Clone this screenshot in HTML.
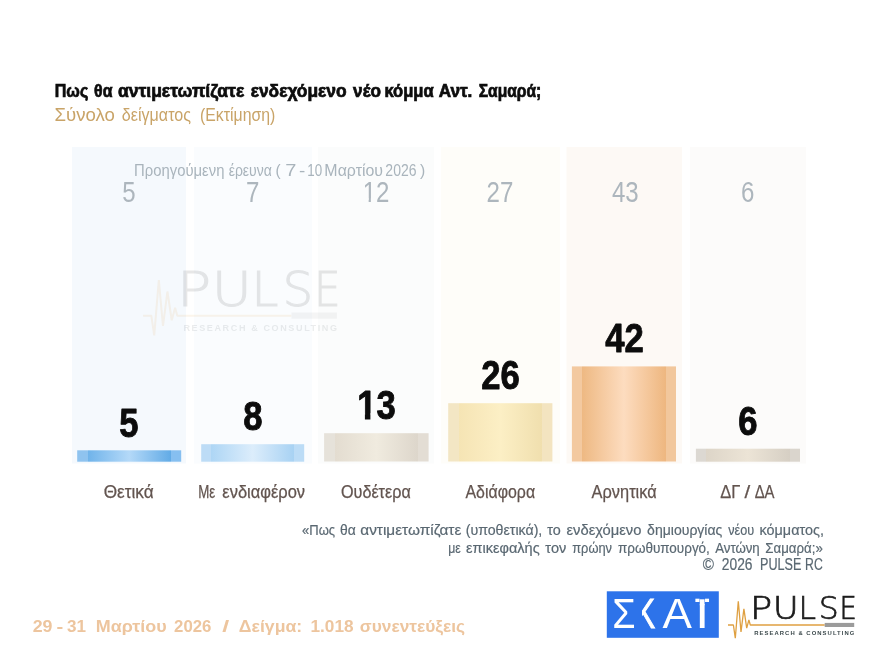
<!DOCTYPE html>
<html lang="el">
<head>
<meta charset="utf-8">
<title>Pulse RC – ΣΚΑΪ</title>
<style>
html,body{margin:0;padding:0;background:#fff;}
body{width:874px;height:656px;overflow:hidden;font-family:"Liberation Sans",sans-serif;}
svg{display:block;}
text{font-family:"Liberation Sans",sans-serif;}
.b{font-weight:bold;}
.lt text,text.lt{font-family:"DejaVu Sans Light","DejaVu Sans","Liberation Sans",sans-serif;font-weight:200;}
</style>
</head>
<body>
<svg width="874" height="656" viewBox="0 0 874 656">
<defs>
<linearGradient id="g1" x1="0" x2="1" y1="0" y2="0">
<stop offset="0" stop-color="#8fc3ef"/><stop offset="0.1" stop-color="#8fc3ef"/>
<stop offset="0.1" stop-color="#6fb3ea"/><stop offset="0.5" stop-color="#b4d9f8"/><stop offset="0.9" stop-color="#62abe6"/>
<stop offset="0.9" stop-color="#86bff0"/><stop offset="1" stop-color="#86bff0"/>
</linearGradient>
<linearGradient id="g2" x1="0" x2="1" y1="0" y2="0">
<stop offset="0" stop-color="#bddcf6"/><stop offset="0.1" stop-color="#bddcf6"/>
<stop offset="0.1" stop-color="#aed6f5"/><stop offset="0.5" stop-color="#dcedfb"/><stop offset="0.9" stop-color="#a8d2f3"/>
<stop offset="0.9" stop-color="#bcdcf6"/><stop offset="1" stop-color="#bcdcf6"/>
</linearGradient>
<linearGradient id="g3" x1="0" x2="1" y1="0" y2="0">
<stop offset="0" stop-color="#e6e2da"/><stop offset="0.1" stop-color="#e6e2da"/>
<stop offset="0.1" stop-color="#e3dcd0"/><stop offset="0.5" stop-color="#f0ebdf"/><stop offset="0.9" stop-color="#ddd6cb"/>
<stop offset="0.9" stop-color="#e3ddd4"/><stop offset="1" stop-color="#e3ddd4"/>
</linearGradient>
<linearGradient id="g4" x1="0" x2="1" y1="0" y2="0">
<stop offset="0" stop-color="#f3e6c4"/><stop offset="0.1" stop-color="#f3e6c4"/>
<stop offset="0.1" stop-color="#f5e4b4"/><stop offset="0.5" stop-color="#fcefc5"/><stop offset="0.9" stop-color="#f0dfae"/>
<stop offset="0.9" stop-color="#f3e4c0"/><stop offset="1" stop-color="#f3e4c0"/>
</linearGradient>
<linearGradient id="g5" x1="0" x2="1" y1="0" y2="0">
<stop offset="0" stop-color="#f3c9a0"/><stop offset="0.1" stop-color="#f3c9a0"/>
<stop offset="0.1" stop-color="#eeb983"/><stop offset="0.5" stop-color="#fddcbf"/><stop offset="0.9" stop-color="#eeb780"/>
<stop offset="0.9" stop-color="#f2c79c"/><stop offset="1" stop-color="#f2c79c"/>
</linearGradient>
<linearGradient id="g6" x1="0" x2="1" y1="0" y2="0">
<stop offset="0" stop-color="#dcd8d2"/><stop offset="0.1" stop-color="#dcd8d2"/>
<stop offset="0.1" stop-color="#ddd5c8"/><stop offset="0.5" stop-color="#ece4d6"/><stop offset="0.9" stop-color="#d6cfc4"/>
<stop offset="0.9" stop-color="#dad5cd"/><stop offset="1" stop-color="#dad5cd"/>
</linearGradient>
</defs>

<!-- column backgrounds -->
<g id="cols">
<rect x="72" y="147" width="114" height="316.5" fill="#f5f9fd"/>
<rect x="194" y="147" width="118" height="316.5" fill="#fafcfe"/>
<rect x="318" y="147" width="116" height="316.5" fill="#fbfcfc"/>
<rect x="441" y="147" width="119" height="316.5" fill="#fefdf9"/>
<rect x="566.5" y="147" width="115.5" height="316.5" fill="#fdf9f5"/>
<rect x="690" y="147" width="116" height="316.5" fill="#fcfbfa"/>
</g>

<!-- bars -->
<g id="bars">
<rect x="77.2" y="450.3" width="104" height="11.4" fill="url(#g1)"/>
<rect x="201.2" y="444.2" width="103" height="17.5" fill="url(#g2)"/>
<rect x="324.1" y="433.2" width="104.5" height="28.3" fill="url(#g3)"/>
<rect x="448.2" y="403.2" width="104.2" height="58.3" fill="url(#g4)"/>
<rect x="571.9" y="366.4" width="104.1" height="95.1" fill="url(#g5)"/>
<rect x="695.9" y="448.7" width="104.1" height="13" fill="url(#g6)"/>
</g>

<!-- watermark -->
<g id="wm" opacity="0.105" transform="translate(-975.2,-621.85) scale(1.536,1.5)">
<polyline points="728,625 733.4,625 735.3,638.2 738.3,601.3 741,631.9 743.9,608.9 746.7,628.1 748.9,619.8 750.3,625 824.7,625" fill="none" stroke="#dfa041" stroke-width="1.3" stroke-linejoin="bevel"/>
<rect x="824.7" y="622.9" width="29.5" height="4.1" fill="#9b9b9b"/>
<g class="lt" font-size="31.5" fill="#1c1c1c" stroke="#1c1c1c" stroke-width="0.7">
<text transform="translate(750.1,618.5) scale(1.17,1)">P</text>
<text transform="translate(772.7,618.5) scale(1.13,1)">U</text>
<text transform="translate(798.6,618.5)">L</text>
<text transform="translate(818.8,618.5)">S</text>
<text transform="translate(839.4,618.5) scale(0.87,1)">E</text>
</g>
<text class="b" x="754.3" y="635.1" font-size="5.9" fill="#3d4a4d" textLength="100" lengthAdjust="spacing">RESEARCH &amp; CONSULTING</text>
</g>

<!-- titles -->
<g id="t1" class="b" font-size="17.6" fill="#0d0d0d" stroke="#0d0d0d" stroke-width="0.7">
<text x="54.77" y="96.9" textLength="33.48" lengthAdjust="spacingAndGlyphs">Πως</text>
<text x="94.12" y="96.9" textLength="18.36" lengthAdjust="spacingAndGlyphs">θα</text>
<text x="117.88" y="96.9" textLength="126.37" lengthAdjust="spacingAndGlyphs">αντιμετωπίζατε</text>
<text x="250.68" y="96.9" textLength="95.88" lengthAdjust="spacingAndGlyphs">ενδεχόμενο</text>
<text x="353.10" y="96.9" textLength="27.79" lengthAdjust="spacingAndGlyphs">νέο</text>
<text x="384.42" y="96.9" textLength="49.27" lengthAdjust="spacingAndGlyphs">κόμμα</text>
<text x="438.71" y="96.9" textLength="33.65" lengthAdjust="spacingAndGlyphs">Αντ.</text>
<text x="478.74" y="96.9" textLength="62.54" lengthAdjust="spacingAndGlyphs">Σαμαρά;</text>
</g><!--/t1-->
<g id="t2" font-size="17.8" fill="#c9a468">
<text x="54.58" y="120.8" textLength="60.37" lengthAdjust="spacingAndGlyphs">Σύνολο</text>
<text x="121.82" y="120.8" textLength="69.14" lengthAdjust="spacingAndGlyphs">δείγματος</text>
<text x="200.00" y="120.8" textLength="75.31" lengthAdjust="spacingAndGlyphs">(Εκτίμηση)</text>
</g><!--/t2-->

<!-- previous survey -->
<g id="t3" font-size="16.4" fill="#a9b4bc">
<text x="134.05" y="175.7" textLength="90.39" lengthAdjust="spacingAndGlyphs">Προηγούμενη</text>
<text x="228.67" y="175.7" textLength="43.23" lengthAdjust="spacingAndGlyphs">έρευνα</text>
<text x="275.56" y="175.7" textLength="5.12" lengthAdjust="spacingAndGlyphs">(</text>
<text x="285.23" y="175.7" textLength="11.13" lengthAdjust="spacingAndGlyphs">7</text>
<text x="299.14" y="175.7" textLength="6.28" lengthAdjust="spacingAndGlyphs">-</text>
<text x="307.18" y="175.7" textLength="14.92" lengthAdjust="spacingAndGlyphs">10</text>
<text x="324.36" y="175.7" textLength="58.73" lengthAdjust="spacingAndGlyphs">Μαρτίου</text>
<text x="385.36" y="175.7" textLength="31.16" lengthAdjust="spacingAndGlyphs">2026</text>
<text x="419.88" y="175.7" textLength="5.24" lengthAdjust="spacingAndGlyphs">)</text>
</g><!--/t3-->
<g id="prev" font-size="29" fill="#adb6bd" text-anchor="middle">
<text transform="translate(129,201.7) scale(0.83,1)">5</text>
<text transform="translate(252.8,201.7) scale(0.83,1)">7</text>
<text transform="translate(376.1,201.7) scale(0.83,1)">12</text>
<text transform="translate(500,201.7) scale(0.83,1)">27</text>
<text transform="translate(625.3,201.7) scale(0.83,1)">43</text>
<text transform="translate(747.7,201.7) scale(0.83,1)">6</text>
</g>

<!-- current values -->
<g id="vals" class="b" font-size="39.8" fill="#0c0c0c" stroke="#0c0c0c" stroke-width="0.9" stroke-linejoin="round" text-anchor="middle">
<text transform="translate(128.9,436.5) scale(0.87,1)">5</text>
<text transform="translate(253.0,429.8) scale(0.87,1)">8</text>
<text transform="translate(376.4,418.5) scale(0.87,1)">13</text>
<text transform="translate(500.4,389.2) scale(0.87,1)">26</text>
<text transform="translate(624.4,352.2) scale(0.87,1)">42</text>
<text transform="translate(747.8,434.5) scale(0.87,1)">6</text>
</g>

<g id="foot13" fill="#fbfcfc"><rect x="357.9" y="413.4" width="7" height="6.8"/><rect x="370.4" y="413.4" width="6.3" height="6.8"/><rect x="363.6" y="198.4" width="5.06" height="4"/><rect x="370.86" y="198.4" width="4.9" height="4"/></g>
<!-- labels -->
<g id="labels" font-size="17.5" fill="#62544f" stroke="#62544f" stroke-width="0.25">
<text x="103.64" y="497.5" textLength="50.05" lengthAdjust="spacingAndGlyphs">Θετικά</text>
<text x="198.15" y="497.5" textLength="17.04" lengthAdjust="spacingAndGlyphs">Με</text>
<text x="222.31" y="497.5" textLength="82.79" lengthAdjust="spacingAndGlyphs">ενδιαφέρον</text>
<text x="340.99" y="497.5" textLength="69.78" lengthAdjust="spacingAndGlyphs">Ουδέτερα</text>
<text x="465.50" y="497.5" textLength="69.61" lengthAdjust="spacingAndGlyphs">Αδιάφορα</text>
<text x="591.60" y="497.5" textLength="65.11" lengthAdjust="spacingAndGlyphs">Αρνητικά</text>
<text x="720.33" y="497.5" textLength="20.10" lengthAdjust="spacingAndGlyphs">ΔΓ</text>
<text x="744.60" y="497.5" textLength="5.68" lengthAdjust="spacingAndGlyphs">/</text>
<text x="754.67" y="497.5" textLength="19.91" lengthAdjust="spacingAndGlyphs">ΔΑ</text>
</g><!--/labels-->

<!-- footnote -->
<g id="note" font-size="15.1" fill="#5a6872" stroke="#5a6872" stroke-width="0.2">
<text x="302.06" y="535.3" textLength="33.06" lengthAdjust="spacingAndGlyphs">«Πως</text>
<text x="340.11" y="535.3" textLength="15.75" lengthAdjust="spacingAndGlyphs">θα</text>
<text x="360.26" y="535.3" textLength="101.04" lengthAdjust="spacingAndGlyphs">αντιμετωπίζατε</text>
<text x="465.68" y="535.3" textLength="76.62" lengthAdjust="spacingAndGlyphs">(υποθετικά),</text>
<text x="547.36" y="535.3" textLength="13.46" lengthAdjust="spacingAndGlyphs">το</text>
<text x="566.51" y="535.3" textLength="74.86" lengthAdjust="spacingAndGlyphs">ενδεχόμενο</text>
<text x="647.12" y="535.3" textLength="75.24" lengthAdjust="spacingAndGlyphs">δημιουργίας</text>
<text x="728.30" y="535.3" textLength="25.88" lengthAdjust="spacingAndGlyphs">νέου</text>
<text x="759.55" y="535.3" textLength="64.36" lengthAdjust="spacingAndGlyphs">κόμματος,</text>
<text x="448.19" y="552.8" textLength="12.56" lengthAdjust="spacingAndGlyphs">με</text>
<text x="466.02" y="552.8" textLength="73.67" lengthAdjust="spacingAndGlyphs">επικεφαλής</text>
<text x="545.36" y="552.8" textLength="20.90" lengthAdjust="spacingAndGlyphs">τον</text>
<text x="572.27" y="552.8" textLength="39.75" lengthAdjust="spacingAndGlyphs">πρώην</text>
<text x="617.94" y="552.8" textLength="91.92" lengthAdjust="spacingAndGlyphs">πρωθυπουργό,</text>
<text x="715.20" y="552.8" textLength="44.54" lengthAdjust="spacingAndGlyphs">Αντώνη</text>
<text x="765.34" y="552.8" textLength="57.43" lengthAdjust="spacingAndGlyphs">Σαμαρά;»</text>
<g font-size="16">
<text x="702.76" y="569.6" textLength="11.21" lengthAdjust="spacingAndGlyphs">©</text>
<text x="721.85" y="569.6" textLength="30.66" lengthAdjust="spacingAndGlyphs">2026</text>
<text x="760.02" y="569.6" textLength="41.25" lengthAdjust="spacingAndGlyphs">PULSE</text>
<text x="805.04" y="569.6" textLength="17.72" lengthAdjust="spacingAndGlyphs">RC</text>
</g>
</g><!--/note-->

<!-- footer -->
<g id="foot" class="b" font-size="16.4" fill="#edc59e">
<text x="32.66" y="632.4" textLength="19.81" lengthAdjust="spacingAndGlyphs">29</text>
<text x="56.43" y="632.4" textLength="6.75" lengthAdjust="spacingAndGlyphs">-</text>
<text x="67.11" y="632.4" textLength="19.00" lengthAdjust="spacingAndGlyphs">31</text>
<text x="95.77" y="632.4" textLength="70.90" lengthAdjust="spacingAndGlyphs">Μαρτίου</text>
<text x="174.09" y="632.4" textLength="37.33" lengthAdjust="spacingAndGlyphs">2026</text>
<text x="222.31" y="632.4" textLength="6.97" lengthAdjust="spacingAndGlyphs">/</text>
<text x="238.83" y="632.4" textLength="63.36" lengthAdjust="spacingAndGlyphs">Δείγμα:</text>
<text x="310.45" y="632.4" textLength="43.11" lengthAdjust="spacingAndGlyphs">1.018</text>
<text x="359.84" y="632.4" textLength="105.30" lengthAdjust="spacingAndGlyphs">συνεντεύξεις</text>
</g><!--/foot-->

<!-- ΣΚΑΪ logo -->
<g id="skai">
<rect x="606.8" y="591.3" width="112" height="46.5" fill="#2d73ea"/>
<g fill="#fff" font-size="41.7">
<text transform="translate(612.2,628.1) scale(0.92,1)">Σ</text>
<text transform="translate(635.4,628.1) scale(0.7,1)" stroke="#fff" stroke-width="1.1">Κ</text>
<text transform="translate(662.5,628.1) scale(1.058,1)">Α</text>
<text font-size="34.5" transform="translate(695.27,628.1) scale(1.45,1)">Ϊ</text>
</g>
<rect x="634" y="596" width="8" height="35" fill="#2d73ea" shape-rendering="crispEdges"/>
<rect x="699.8" y="599.3" width="4.75" height="6" fill="#fff"/>
</g>

<!-- PULSE logo -->
<g id="pulse">
<polyline points="728,625 733.4,625 735.3,638.2 738.3,601.3 741,631.9 743.9,608.9 746.7,628.1 748.9,619.8 750.3,625 824.7,625" fill="none" stroke="#dfa041" stroke-width="1.3" stroke-linejoin="bevel"/>
<rect x="824.7" y="622.9" width="29.5" height="4.1" fill="#9b9b9b"/>
<g class="lt" font-size="31.5" fill="#1c1c1c" stroke="#1c1c1c" stroke-width="0.7">
<text transform="translate(750.1,618.5) scale(1.17,1)">P</text>
<text transform="translate(772.7,618.5) scale(1.13,1)">U</text>
<text transform="translate(798.6,618.5)">L</text>
<text transform="translate(818.8,618.5)">S</text>
<text transform="translate(839.4,618.5) scale(0.87,1)">E</text>
</g>
<text class="b" x="754.3" y="635.1" font-size="5.9" fill="#3d4a4d" textLength="100" lengthAdjust="spacing">RESEARCH &amp; CONSULTING</text>
</g>

</svg>
</body>
</html>
